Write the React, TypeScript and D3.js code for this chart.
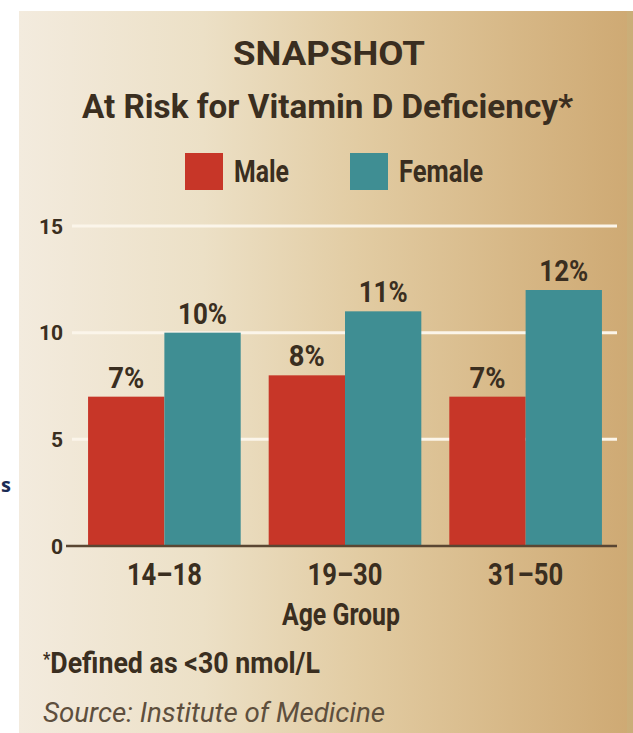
import React from "react";
import * as d3 from "d3";

// Vitamin D deficiency risk by age group (percent)
const categories = ["14–18", "19–30", "31–50"];
const seriesNames = ["Male", "Female"];
const maleValues = [7, 8, 7];
const femaleValues = [10, 11, 12];
const yTicks = [0, 5, 10, 15];

const W = 633;
const H = 733;
const FONT = "'Liberation Sans Narrow', 'Roboto', 'Open Sans', sans-serif";
const INK = "#3a2e20";
const COLORS: Record<string, string> = { Male: "#c73628", Female: "#3f8e93" };

export default function App() {
  const x0 = d3.scaleBand<string>().domain(categories).range([70, 620]).paddingInner(0.155).paddingOuter(0.1);
  const x1 = d3.scaleBand<string>().domain(seriesNames).range([0, x0.bandwidth()]).padding(0);
  const y = d3.scaleLinear().domain([0, 15]).range([546, 226]);

  const rows = categories.map((c, i) => ({
    cat: c,
    values: [
      { key: "Male", value: maleValues[i] },
      { key: "Female", value: femaleValues[i] },
    ],
  }));

  return (
    <svg width={W} height={H} style={{ position: "absolute", left: 0, top: 0 }} fontFamily={FONT}>
      <defs>
        <linearGradient id="panelBg" x1="0" x2="1" y1="0" y2="0">
          <stop offset="0" stopColor="#f3ebde" />
          <stop offset="0.3" stopColor="#ece0c6" />
          <stop offset="0.55" stopColor="#e2cca3" />
          <stop offset="0.8" stopColor="#d7b887" />
          <stop offset="1" stopColor="#cea973" />
        </linearGradient>
      </defs>
      <rect x={0} y={0} width={W} height={H} fill="#ffffff" />
      {/* word fragment in the left margin */}
      <text x={1} y={492} fontSize={20} fontWeight="bold" fill="#1b2b55" fontFamily="'Open Sans', sans-serif">s</text>
      <rect x={19} y={11} width={W - 19} height={H - 11} fill="url(#panelBg)" />
      <rect x={627} y={11} width={6} height={H - 11} fill="#c8b07c" opacity={0.6} />

      {/* titles */}
      <text x={329} y={65} textAnchor="middle" fontSize={33} fontWeight="bold" fill={INK} textLength={192} lengthAdjust="spacingAndGlyphs">SNAPSHOT</text>
      <text x={82} y={118} fontSize={34} fontWeight="bold" fill={INK} textLength={491} lengthAdjust="spacingAndGlyphs">At Risk for Vitamin D Deficiency*</text>

      {/* legend */}
      {seriesNames.map((s, i) => {
        const sx = [185, 350][i];
        const tw = [55, 84][i];
        return (
          <g key={s}>
            <rect x={sx} y={153} width={38} height={37} fill={COLORS[s]} />
            <text x={sx + 49} y={182} fontSize={31} fontWeight="bold" fill={INK} textLength={tw} lengthAdjust="spacingAndGlyphs">{s}</text>
          </g>
        );
      })}

      {/* gridlines */}
      {yTicks.filter((t) => t > 0).map((t) => (
        <line key={t} x1={72} x2={617} y1={y(t)} y2={y(t)} stroke="#fbf5ea" strokeWidth={3} />
      ))}
      {yTicks.map((t) => (
        <text key={t} x={63} y={y(t)} dy="0.36em" textAnchor="end" fontSize={21} fontWeight="bold" fill={INK}>{t}</text>
      ))}

      {/* bars */}
      {rows.map((r) => (
        <g key={r.cat} transform={`translate(${x0(r.cat)},0)`}>
          {r.values.map((v) => {
            const label = `${v.value}%`;
            return (
              <g key={v.key}>
                <rect x={x1(v.key)} y={y(v.value)} width={x1.bandwidth()} height={y(0) - y(v.value)} fill={COLORS[v.key]} />
                <text x={(x1(v.key) as number) + x1.bandwidth() / 2} y={y(v.value) - 9} textAnchor="middle" fontSize={30} fontWeight="bold" fill={INK} textLength={label.length === 2 ? 36 : 49} lengthAdjust="spacingAndGlyphs">{label}</text>
              </g>
            );
          })}
        </g>
      ))}

      {/* baseline */}
      <line x1={66} x2={617} y1={y(0)} y2={y(0)} stroke="#5a4632" strokeWidth={2.5} />

      {/* category labels */}
      {categories.map((c) => (
        <text key={c} x={(x0(c) as number) + x0.bandwidth() / 2} y={585} textAnchor="middle" fontSize={32} fontWeight="bold" fill={INK} textLength={75} lengthAdjust="spacingAndGlyphs">{c}</text>
      ))}
      <text x={341} y={625} textAnchor="middle" fontSize={32} fontWeight="bold" fill={INK} textLength={118} lengthAdjust="spacingAndGlyphs">Age Group</text>

      {/* notes */}
      <text x={43} y={673} fontSize={30} fontWeight="bold" fill={INK} textLength={277} lengthAdjust="spacingAndGlyphs">
        <tspan fontSize={18} dy={-8}>*</tspan>
        <tspan dy={8}>Defined as &lt;30 nmol/L</tspan>
      </text>
      <text x={43} y={722} fontSize={27} fontStyle="italic" fill="#5e4f3d" textLength={342} lengthAdjust="spacingAndGlyphs">Source: Institute of Medicine</text>
    </svg>
  );
}
